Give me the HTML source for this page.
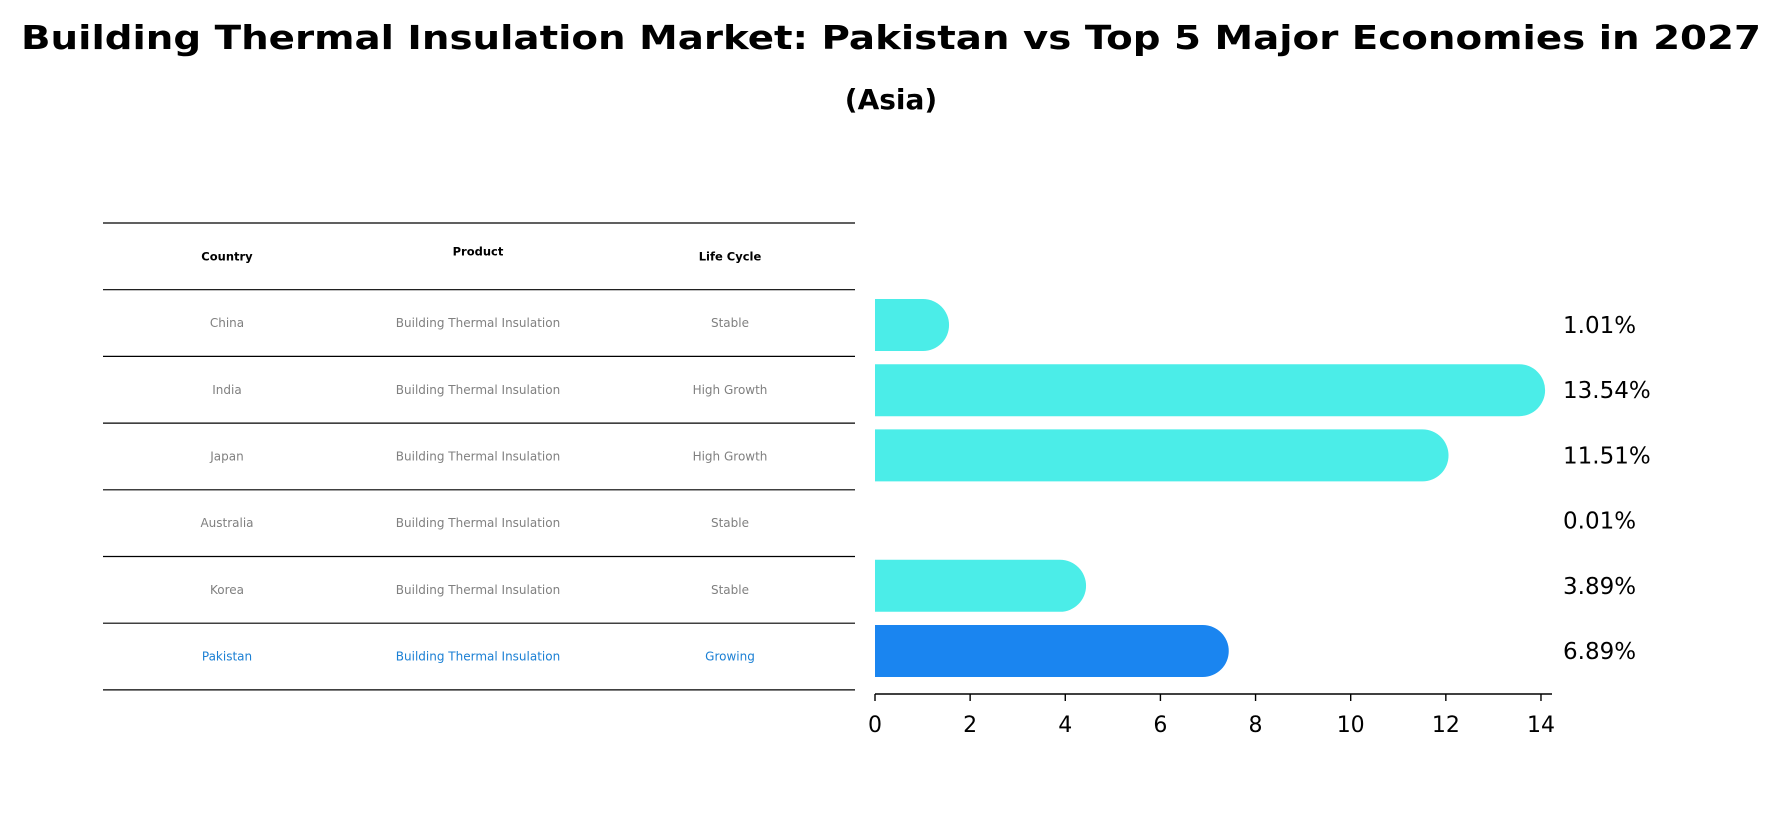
<!DOCTYPE html>
<html><head><meta charset="utf-8"><style>
body{margin:0;background:#fff;}
svg{display:block;font-family:"DejaVu Sans","Liberation Sans",sans-serif;}
</style></head><body>
<svg id="chart" width="1782" height="823" viewBox="0 0 1782 823">
<text x="891" y="49" text-anchor="middle" font-size="33" font-weight="bold" textLength="1740" lengthAdjust="spacingAndGlyphs">Building Thermal Insulation Market: Pakistan vs Top 5 Major Economies in 2027</text>
<text x="891" y="109" text-anchor="middle" font-size="28" font-weight="bold">(Asia)</text>
<g id="table"></g>
<g id="bars"></g>
</svg>
<script>
const countries=["China","India","Japan","Australia","Korea","Pakistan"];
const products=["Building Thermal Insulation","Building Thermal Insulation","Building Thermal Insulation","Building Thermal Insulation","Building Thermal Insulation","Building Thermal Insulation"];
const lifeCycles=["Stable","High Growth","High Growth","Stable","Stable","Growing"];
const values=[1.01,13.54,11.51,0.01,3.89,6.89];
const valueLabels=["1.01%","13.54%","11.51%","0.01%","3.89%","6.89%"];
const xTicks=[0,2,4,6,8,10,12,14];
const highlight="Pakistan";

const NS="http://www.w3.org/2000/svg";
function mk(tag,attrs,parent){const e=document.createElementNS(NS,tag);for(const k in attrs)e.setAttribute(k,attrs[k]);parent.appendChild(e);return e;}
const X0=875,XS=47.57;
function x(v){return X0+v*XS;}
const rowTop=223,rowH=66.7;
function yc(i){return 325+i*65.2;}

const tbl=document.getElementById('table');
for(let i=0;i<=countries.length+1;i++){
  const ln=mk('line',{x1:103,x2:855,y1:rowTop+i*rowH,y2:rowTop+i*rowH,stroke:'#000','stroke-width':1.2},tbl);
  
  
}
const colX=[227,478,730];
const heads=["Country","Product","Life Cycle"];
heads.forEach((h,j)=>{
  const t=mk('text',{x:colX[j],y:rowTop+rowH/2+(j==1?-1:4),'text-anchor':'middle','font-size':11.5,'font-weight':'bold'},tbl);
  t.textContent=h;
  
  
});
countries.forEach((c,i)=>{
  const col=c===highlight?'#1a7fd4':'#808080';
  [c,products[i],lifeCycles[i]].forEach((s,j)=>{
    const t=mk('text',{x:colX[j],y:rowTop+rowH*(i+1)+rowH/2+4,'text-anchor':'middle','font-size':12,fill:col},tbl);
    t.textContent=s;
    
    
  });
});

const g=document.getElementById('bars');
const bh=52;
values.forEach((v,i)=>{
  const col=countries[i]===highlight?'#1a85f0':'#4bede8';
  const xe=x(v),y=yc(i);
  const w=xe-X0;
  let d;
  if(w<2){d='';}else{
    const r=bh/2;
    d=`M${X0},${y-r} L${xe},${y-r} A${r},${r} 0 0 1 ${xe},${y+r} L${X0},${y+r} Z`;
  }
  if(d){const p=mk('path',{d:d,fill:col},g);
  
  }
  const t=mk('text',{x:1563,y:y+8,'font-size':23},g);
  t.textContent=valueLabels[i];
  
  
});
const ax=mk('line',{x1:X0,x2:1552,y1:694,y2:694,stroke:'#000','stroke-width':1.6},g);


xTicks.forEach(v=>{
  const tk=mk('line',{x1:x(v),x2:x(v),y1:694,y2:701,stroke:'#000','stroke-width':1.4},g);
  
  
  const t=mk('text',{x:x(v),y:732,'text-anchor':'middle','font-size':22},g);
  t.textContent=v;
  
  
});
</script>
</body></html>
